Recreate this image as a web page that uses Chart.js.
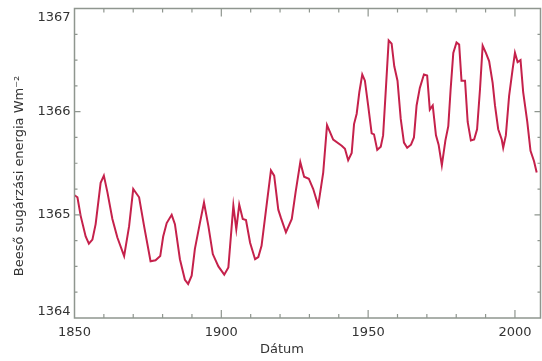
<!DOCTYPE html>
<html>
<head>
<meta charset="utf-8">
<script src="https://cdn.jsdelivr.net/npm/chart.js@4/dist/chart.umd.min.js"></script>
<style>
html,body{margin:0;padding:0;background:#fff;}
canvas{display:block;}
</style>
</head>
<body>
<canvas id="c" width="542" height="361"></canvas>
<script>
const years = [1850,1851.0,1852.1,1853.8,1854.9,1856.1,1857.2,1858.9,1860.0,1861.2,1862.9,1864.6,1866.9,1868.6,1870.0,1872.0,1873.7,1875.9,1877.6,1879.2,1880.2,1881.4,1883.1,1884.2,1885.9,1887.6,1888.7,1889.9,1891.0,1892.7,1894.1,1895.6,1897.1,1899.0,1901.0,1902.4,1904.1,1905.1,1906.1,1907.3,1908.4,1909.8,1911.5,1912.6,1913.7,1915.4,1916.9,1918.0,1919.4,1920.3,1922.0,1924.0,1925.3,1926.9,1928.2,1929.8,1931.3,1933.0,1934.7,1936.0,1938.1,1941.0,1942.1,1943.2,1944.4,1945.2,1946.1,1947.0,1948.0,1948.9,1950.0,1951.2,1952.0,1953.1,1954.3,1955.1,1956.1,1957.0,1958.0,1958.9,1960.0,1961.1,1962.2,1963.3,1964.6,1965.6,1966.5,1967.6,1969.0,1970.1,1971.0,1972.0,1973.1,1974.0,1975.1,1976.3,1977.3,1978.1,1979.0,1980.1,1981.0,1981.8,1983.0,1983.9,1985.0,1986.1,1987.1,1988.1,1989.0,1990.1,1991.2,1992.4,1993.2,1994.3,1995.5,1996.0,1996.9,1998.0,1999.2,2000.0,2000.9,2001.9,2002.8,2004.2,2005.3,2006.5,2007.4];
const irradiance = [1365.19,1365.17,1364.99,1364.79,1364.72,1364.76,1364.91,1365.31,1365.38,1365.22,1364.96,1364.78,1364.60,1364.89,1365.25,1365.17,1364.89,1364.55,1364.56,1364.60,1364.79,1364.92,1365.00,1364.91,1364.57,1364.37,1364.33,1364.41,1364.67,1364.92,1365.12,1364.89,1364.62,1364.50,1364.42,1364.49,1365.09,1364.86,1365.10,1364.96,1364.95,1364.73,1364.57,1364.59,1364.70,1365.09,1365.43,1365.38,1365.05,1364.97,1364.83,1364.96,1365.22,1365.51,1365.37,1365.35,1365.25,1365.09,1365.41,1365.87,1365.73,1365.67,1365.64,1365.53,1365.60,1365.88,1365.98,1366.19,1366.36,1366.30,1366.06,1365.79,1365.78,1365.63,1365.66,1365.77,1366.25,1366.69,1366.66,1366.44,1366.30,1365.93,1365.70,1365.65,1365.68,1365.75,1366.06,1366.23,1366.36,1366.35,1366.02,1366.06,1365.77,1365.68,1365.48,1365.72,1365.86,1366.22,1366.57,1366.67,1366.65,1366.30,1366.30,1365.90,1365.72,1365.73,1365.83,1366.22,1366.64,1366.57,1366.49,1366.28,1366.06,1365.83,1365.73,1365.65,1365.77,1366.15,1366.41,1366.57,1366.48,1366.50,1366.19,1365.90,1365.62,1365.52,1365.41];
const xTickLabels = [1850,1900,1950,2000];
const yTickLabels = [1364,1365,1366,1367];
const xTitle = "Dátum";
const yTitle = "Beeső sugárzási energia Wm\u207B\u00B2";

const AXIS = '#8f968f';
const TEXT = '#333333';
const FONT = '13px "DejaVu Sans", Verdana, sans-serif';

const framePlugin = {
  id: 'frame',
  afterDraw(chart) {
    const ctx = chart.ctx;
    const xs = chart.scales.x, ys = chart.scales.y;
    const L = xs.getPixelForValue(xs.min), R = xs.getPixelForValue(xs.max);
    const T = ys.getPixelForValue(ys.max), B = ys.getPixelForValue(ys.min);
    ctx.save();
    ctx.strokeStyle = AXIS;
    ctx.lineWidth = 1.5;
    ctx.strokeRect(L, T, R - L, B - T);
    ctx.lineWidth = 1.2;
    ctx.beginPath();
    for (let v = 1860; v <= xs.max; v += 10) {
      const px = xs.getPixelForValue(v);
      const len = (v % 50 === 0) ? 8 : 4;
      ctx.moveTo(px, B); ctx.lineTo(px, B - len);
      ctx.moveTo(px, T); ctx.lineTo(px, T + len);
    }
    for (let v = 1364.25; v < 1367; v += 0.25) {
      const py = ys.getPixelForValue(v);
      const major = Math.abs(v - Math.round(v)) < 1e-6;
      const len = major ? 6 : 3;
      ctx.moveTo(L, py); ctx.lineTo(L + len, py);
      ctx.moveTo(R, py); ctx.lineTo(R - len, py);
    }
    ctx.stroke();
    ctx.fillStyle = TEXT;
    ctx.font = FONT;
    ctx.textAlign = 'right';
    ctx.textBaseline = 'middle';
    yTickLabels.forEach((v, i) => {
      let py = ys.getPixelForValue(v);
      if (i === 0) py -= 6;
      if (i === yTickLabels.length - 1) py += 9;
      ctx.fillText(String(v), L - 4, py);
    });
    ctx.textAlign = 'center';
    ctx.textBaseline = 'top';
    xTickLabels.forEach(v => {
      ctx.fillText(String(v), xs.getPixelForValue(v), B + 8);
    });
    ctx.fillText(xTitle, 282, 343);
    ctx.save();
    ctx.translate(20, 176);
    ctx.rotate(-Math.PI / 2);
    ctx.textBaseline = 'middle';
    ctx.fillText(yTitle, 0, 0);
    ctx.restore();
    ctx.restore();
  }
};

new Chart(document.getElementById('c'), {
  type: 'line',
  data: {
    datasets: [{
      data: years.map((y, i) => ({x: y, y: irradiance[i]})),
      borderColor: '#c5214b',
      borderWidth: 2,
      pointRadius: 0,
      tension: 0,
      fill: false
    }]
  },
  options: {
    responsive: false,
    animation: false,
    layout: { padding: { left: 74.5, right: 1.5, top: 8.5, bottom: 43 } },
    plugins: { legend: { display: false }, tooltip: { enabled: false } },
    scales: {
      x: { type: 'linear', min: 1850, max: 2008.7, display: false },
      y: { type: 'linear', min: 1364, max: 1367, display: false }
    }
  },
  plugins: [framePlugin]
});
</script>
</body>
</html>
